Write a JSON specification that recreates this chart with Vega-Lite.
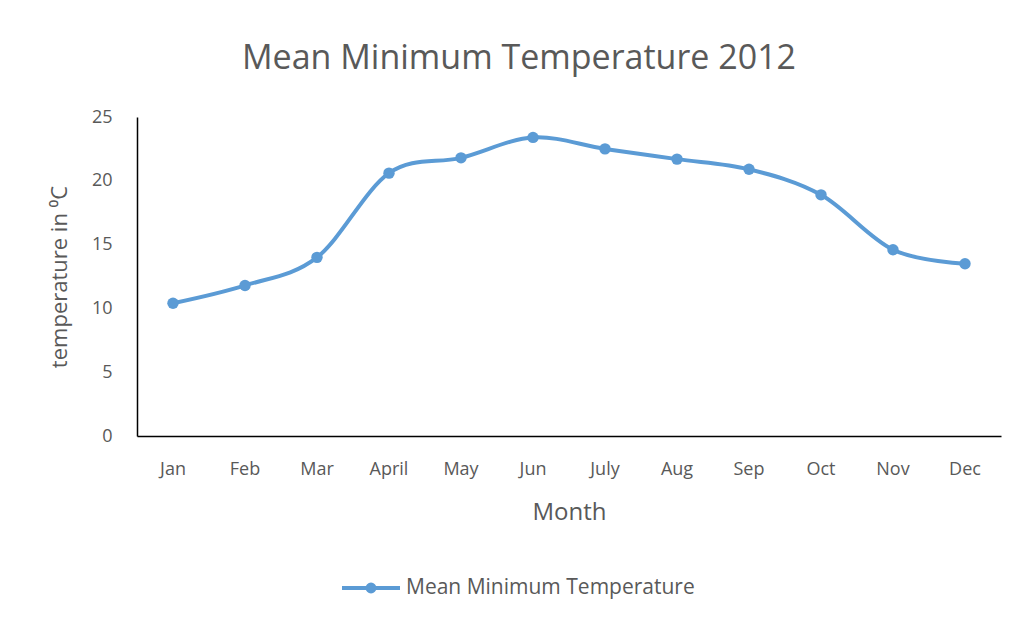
{
  "$schema": "https://vega.github.io/schema/vega-lite/v6.json",
  "width": 864,
  "height": 319,
  "autosize": {"type": "none"},
  "padding": {"left": 137, "top": 117, "right": 18, "bottom": 186},
  "background": "white",
  "title": {
    "text": "Mean Minimum Temperature 2012",
    "font": "Open Sans",
    "fontSize": 34,
    "fontWeight": "normal",
    "color": "#595959",
    "anchor": "middle",
    "dx": -50,
    "offset": 32
  },
  "data": {
    "values": [
      {"month": "Jan", "temp": 10.4},
      {"month": "Feb", "temp": 11.8},
      {"month": "Mar", "temp": 14.0},
      {"month": "April", "temp": 20.6},
      {"month": "May", "temp": 21.8},
      {"month": "Jun", "temp": 23.4},
      {"month": "July", "temp": 22.5},
      {"month": "Aug", "temp": 21.7},
      {"month": "Sep", "temp": 20.9},
      {"month": "Oct", "temp": 18.9},
      {"month": "Nov", "temp": 14.6},
      {"month": "Dec", "temp": 13.5}
    ]
  },
  "encoding": {
    "x": {
      "field": "month",
      "type": "nominal",
      "sort": null,
      "scale": {"type": "band", "paddingInner": 0, "paddingOuter": 0},
      "axis": {
        "title": "Month",
        "labelAngle": 0,
        "ticks": false,
        "grid": false,
        "domainColor": "#000000",
        "domainWidth": 1.5,
        "labelPadding": 24,
        "labelFont": "Open Sans",
        "labelFontSize": 18,
        "labelColor": "#595959",
        "titleFont": "Open Sans",
        "titleFontSize": 24,
        "titleFontWeight": "normal",
        "titleColor": "#595959",
        "titlePadding": 22
      }
    },
    "y": {
      "field": "temp",
      "type": "quantitative",
      "scale": {"domain": [0, 25]},
      "axis": {
        "title": "temperature in ⁰C",
        "values": [0, 5, 10, 15, 20, 25],
        "ticks": false,
        "grid": false,
        "domainColor": "#000000",
        "domainWidth": 1.5,
        "labelPadding": 25,
        "labelFont": "Open Sans",
        "labelFontSize": 18,
        "labelColor": "#595959",
        "titleFont": "Open Sans",
        "titleFontSize": 22,
        "titleFontWeight": "normal",
        "titleColor": "#595959",
        "titlePadding": 20
      }
    },
    "color": {
      "datum": "Mean Minimum Temperature",
      "type": "nominal",
      "scale": {"range": ["#5b9bd5"]},
      "legend": {
        "title": null,
        "orient": "none",
        "legendX": 203,
        "legendY": 440,
        "symbolType": "M -1 0 L 1 0 M -0.12 0 A 0.12 0.12 0 1 0 0.12 0 A 0.12 0.12 0 1 0 -0.12 0 Z",
        "symbolSize": 3364,
        "symbolStrokeWidth": 4,
        "symbolFillColor": "#5b9bd5",
        "symbolStrokeColor": "#5b9bd5",
        "symbolOpacity": 1,
        "labelFont": "Open Sans",
        "labelFontSize": 21,
        "labelColor": "#595959",
        "labelOffset": 4,
        "labelLimit": 0
      }
    }
  },
  "layer": [
    {
      "mark": {"type": "line", "strokeWidth": 4, "interpolate": "cardinal", "tension": 0}
    },
    {
      "mark": {"type": "point", "filled": true, "size": 130, "opacity": 1, "shape": "circle"}
    }
  ],
  "config": {
    "view": {"stroke": null}
  }
}
